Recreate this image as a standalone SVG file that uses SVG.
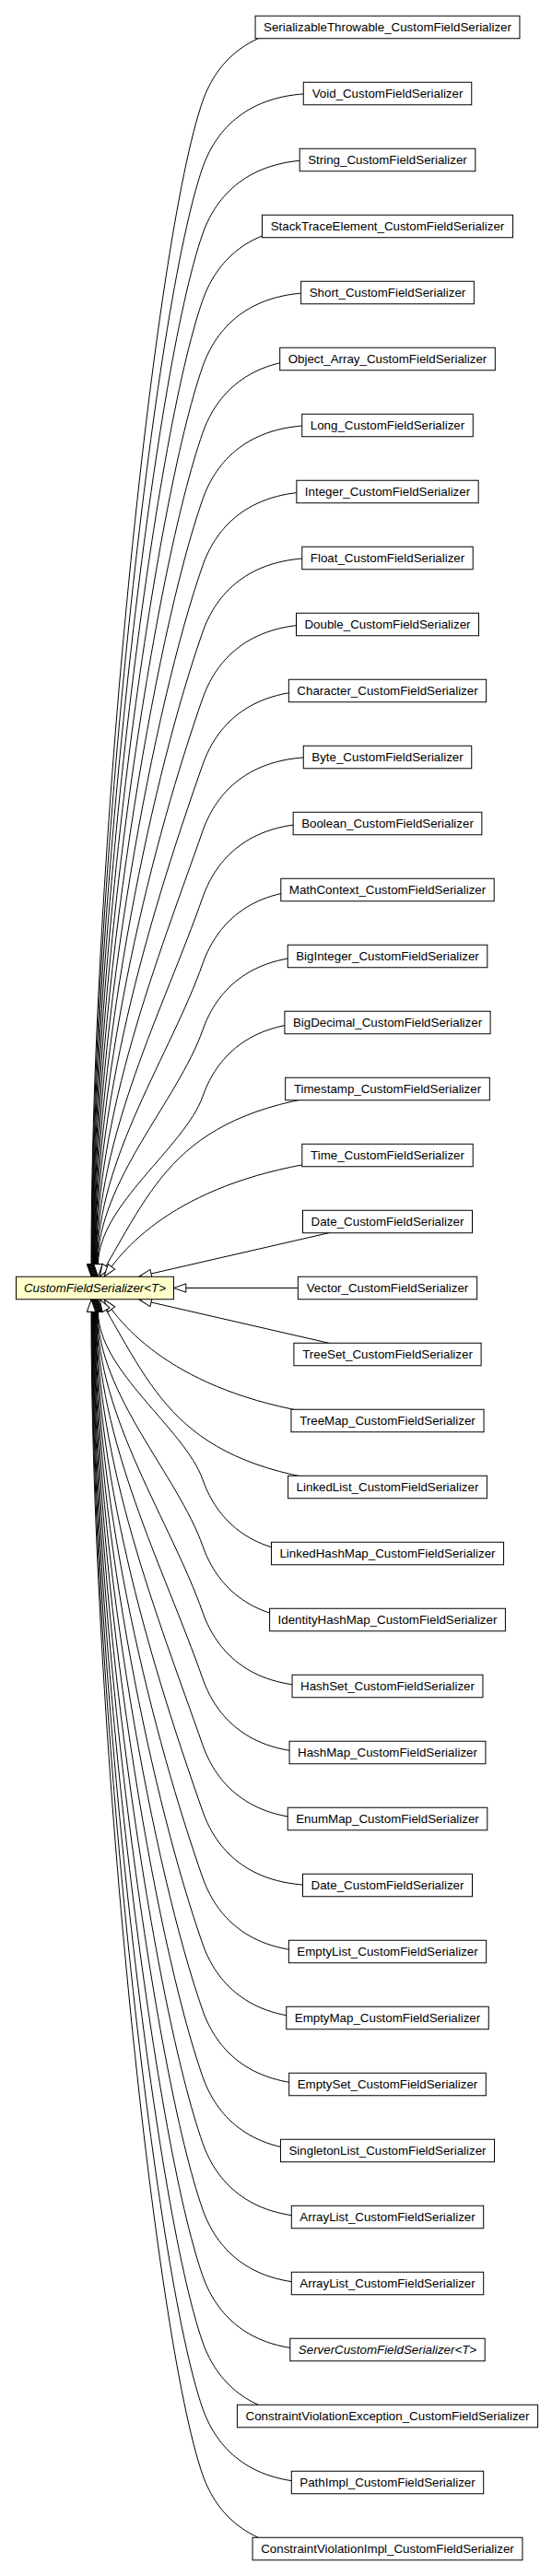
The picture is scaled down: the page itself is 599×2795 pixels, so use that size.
<svg xmlns="http://www.w3.org/2000/svg" width="599" height="2795" viewBox="0 0 599 2795">
<style>
.e{fill:none;stroke:#000;stroke-width:1;marker-end:url(#tri)}
.n rect{fill:#fff;stroke:#000;stroke-width:1}
.n text{font-family:"Liberation Sans",Helvetica,Arial,sans-serif;font-size:13.33px;text-anchor:middle;fill:#000}
.it{font-style:italic}
#n_base rect{fill:#ffffcc}
</style>
<defs>
<marker id="tri" markerUnits="userSpaceOnUse" markerWidth="16" markerHeight="12" viewBox="-1 -6 16 12" refX="0" refY="0" orient="auto" overflow="visible">
<path d="M0,-4.67 L13.3,0 L0,4.67 Z" fill="#fff" stroke="#000" stroke-width="1"/>
</marker>
</defs>
<rect width="599" height="2795" fill="#fff"/>
<g id="edges">
<path class="e" d="M338,29.5 C263,31.5 232.3,74.5 220,109.5 C167.4,259.5 99,929.9 99,1371.7"/>
<path class="e" d="M338,101.5 C263,103.5 232.3,146.5 220,181.5 C167.4,331.5 99.5,955.1 99.5,1371.7"/>
<path class="e" d="M338,173.5 C263,175.5 232.3,218.5 220,253.5 C167.4,403.5 100,980.3 100,1371.7"/>
<path class="e" d="M338,245.5 C263,247.5 232.3,290.5 220,325.5 C167.4,475.5 100.5,1005.5 100.5,1371.7"/>
<path class="e" d="M338,317.5 C263,319.5 232.3,362.5 220,397.5 C167.4,547.5 101,1030.7 101,1371.7"/>
<path class="e" d="M338,389.5 C263,391.5 232.3,434.5 220,469.5 C167.4,619.5 101.5,1055.9 101.5,1371.7"/>
<path class="e" d="M338,461.5 C263,463.5 232.3,506.5 220,541.5 C167.4,691.5 102,1081.1 102,1371.7"/>
<path class="e" d="M338,533.5 C263,535.5 232.3,578.5 220,613.5 C167.4,763.5 102.5,1106.3 102.5,1371.7"/>
<path class="e" d="M338,605.5 C263,607.5 232.3,650.5 220,685.5 C167.4,835.5 103,1131.5 103,1371.7"/>
<path class="e" d="M338,677.5 C263,679.5 232.3,722.5 220,757.5 C167.4,907.5 103.5,1156.7 103.5,1371.7"/>
<path class="e" d="M338,749.5 C263,751.5 232.3,794.5 220,829.5 C167.4,979.5 104,1181.9 104,1371.7"/>
<path class="e" d="M338,821.5 C263,823.5 232.3,866.5 220,901.5 C170.5,1042.5 104.5,1207.1 104.5,1371.7"/>
<path class="e" d="M338,893.5 C263,895.5 232.3,938.5 220,973.5 C178.1,1093 105,1232.3 105,1371.7"/>
<path class="e" d="M338,965.5 C263,967.5 232.3,1010.5 220,1045.5 C185.6,1143.4 105.5,1257.5 105.5,1371.7"/>
<path class="e" d="M338,1037.5 C263,1039.5 232.3,1082.5 220,1117.5 C193.2,1193.8 106,1282.7 106,1371.7"/>
<path class="e" d="M338,1109.5 C263,1111.5 232.3,1154.5 220,1189.5 C200.8,1244.2 106.5,1307.9 106.5,1371.7"/>
<path class="e" d="M420.5,1181.5 C205,1194 175,1270 115,1373.7"/>
<path class="e" d="M420.5,1253.5 C240,1262 157,1326.4 121,1374.4"/>
<path class="e" d="M420.5,1323.1 L164,1382"/>
<path class="e" d="M420.5,1397.5 L201.8,1397.5"/>
<path class="e" d="M420.5,1471.9 L164,1413"/>
<path class="e" d="M420.5,1541.5 C240,1533 157,1468.6 121,1420.6"/>
<path class="e" d="M420.5,1613.5 C205,1601 175,1525 115,1421.3"/>
<path class="e" d="M338,1685.5 C263,1683.5 232.3,1640.5 220,1605.5 C200.8,1550.8 106.5,1487.1 106.5,1423.3"/>
<path class="e" d="M338,1757.5 C263,1755.5 232.3,1712.5 220,1677.5 C193.2,1601.2 106,1512.3 106,1423.3"/>
<path class="e" d="M338,1829.5 C263,1827.5 232.3,1784.5 220,1749.5 C185.6,1651.6 105.5,1537.5 105.5,1423.3"/>
<path class="e" d="M338,1901.5 C263,1899.5 232.3,1856.5 220,1821.5 C178.1,1702 105,1562.7 105,1423.3"/>
<path class="e" d="M338,1973.5 C263,1971.5 232.3,1928.5 220,1893.5 C170.5,1752.5 104.5,1587.9 104.5,1423.3"/>
<path class="e" d="M338,2045.5 C263,2043.5 232.3,2000.5 220,1965.5 C167.4,1815.5 104,1613.1 104,1423.3"/>
<path class="e" d="M338,2117.5 C263,2115.5 232.3,2072.5 220,2037.5 C167.4,1887.5 103.5,1638.3 103.5,1423.3"/>
<path class="e" d="M338,2189.5 C263,2187.5 232.3,2144.5 220,2109.5 C167.4,1959.5 103,1663.5 103,1423.3"/>
<path class="e" d="M338,2261.5 C263,2259.5 232.3,2216.5 220,2181.5 C167.4,2031.5 102.5,1688.7 102.5,1423.3"/>
<path class="e" d="M338,2333.5 C263,2331.5 232.3,2288.5 220,2253.5 C167.4,2103.5 102,1713.9 102,1423.3"/>
<path class="e" d="M338,2405.5 C263,2403.5 232.3,2360.5 220,2325.5 C167.4,2175.5 101.5,1739.1 101.5,1423.3"/>
<path class="e" d="M338,2477.5 C263,2475.5 232.3,2432.5 220,2397.5 C167.4,2247.5 101,1764.3 101,1423.3"/>
<path class="e" d="M338,2549.5 C263,2547.5 232.3,2504.5 220,2469.5 C167.4,2319.5 100.5,1789.5 100.5,1423.3"/>
<path class="e" d="M338,2621.5 C263,2619.5 232.3,2576.5 220,2541.5 C167.4,2391.5 100,1814.7 100,1423.3"/>
<path class="e" d="M338,2693.5 C263,2691.5 232.3,2648.5 220,2613.5 C167.4,2463.5 99.5,1839.9 99.5,1423.3"/>
<path class="e" d="M338,2765.5 C263,2763.5 232.3,2720.5 220,2685.5 C167.4,2535.5 99,1865.1 99,1423.3"/>
</g>
<g id="n_base" class="n"><rect x="17.5" y="1385.25" width="171" height="24.5"/><text x="103" y="1402.2" class="it">CustomFieldSerializer&lt;T&gt;</text></g>
<g id="n0" class="n"><rect x="277.05" y="17.25" width="286.9" height="24.5"/><text x="420.5" y="34.2">SerializableThrowable_CustomFieldSerializer</text></g>
<g id="n1" class="n"><rect x="329.25" y="89.25" width="182.5" height="24.5"/><text x="420.5" y="106.2">Void_CustomFieldSerializer</text></g>
<g id="n2" class="n"><rect x="325.2" y="161.25" width="190.6" height="24.5"/><text x="420.5" y="178.2">String_CustomFieldSerializer</text></g>
<g id="n3" class="n"><rect x="284.45" y="233.25" width="272.1" height="24.5"/><text x="420.5" y="250.2">StackTraceElement_CustomFieldSerializer</text></g>
<g id="n4" class="n"><rect x="326.65" y="305.25" width="187.7" height="24.5"/><text x="420.5" y="322.2">Short_CustomFieldSerializer</text></g>
<g id="n5" class="n"><rect x="303.7" y="377.25" width="233.6" height="24.5"/><text x="420.5" y="394.2">Object_Array_CustomFieldSerializer</text></g>
<g id="n6" class="n"><rect x="327.75" y="449.25" width="185.5" height="24.5"/><text x="420.5" y="466.2">Long_CustomFieldSerializer</text></g>
<g id="n7" class="n"><rect x="321.85" y="521.25" width="197.3" height="24.5"/><text x="420.5" y="538.2">Integer_CustomFieldSerializer</text></g>
<g id="n8" class="n"><rect x="327.8" y="593.25" width="185.4" height="24.5"/><text x="420.5" y="610.2">Float_CustomFieldSerializer</text></g>
<g id="n9" class="n"><rect x="321.5" y="665.25" width="198" height="24.5"/><text x="420.5" y="682.2">Double_CustomFieldSerializer</text></g>
<g id="n10" class="n"><rect x="313.35" y="737.25" width="214.3" height="24.5"/><text x="420.5" y="754.2">Character_CustomFieldSerializer</text></g>
<g id="n11" class="n"><rect x="329.25" y="809.25" width="182.5" height="24.5"/><text x="420.5" y="826.2">Byte_CustomFieldSerializer</text></g>
<g id="n12" class="n"><rect x="318.15" y="881.25" width="204.7" height="24.5"/><text x="420.5" y="898.2">Boolean_CustomFieldSerializer</text></g>
<g id="n13" class="n"><rect x="304.8" y="953.25" width="231.4" height="24.5"/><text x="420.5" y="970.2">MathContext_CustomFieldSerializer</text></g>
<g id="n14" class="n"><rect x="312.2" y="1025.25" width="216.6" height="24.5"/><text x="420.5" y="1042.2">BigInteger_CustomFieldSerializer</text></g>
<g id="n15" class="n"><rect x="308.9" y="1097.25" width="223.2" height="24.5"/><text x="420.5" y="1114.2">BigDecimal_CustomFieldSerializer</text></g>
<g id="n16" class="n"><rect x="309.65" y="1169.25" width="221.7" height="24.5"/><text x="420.5" y="1186.2">Timestamp_CustomFieldSerializer</text></g>
<g id="n17" class="n"><rect x="327.8" y="1241.25" width="185.4" height="24.5"/><text x="420.5" y="1258.2">Time_CustomFieldSerializer</text></g>
<g id="n18" class="n"><rect x="328.5" y="1313.25" width="184" height="24.5"/><text x="420.5" y="1330.2">Date_CustomFieldSerializer</text></g>
<g id="n19" class="n"><rect x="323.35" y="1385.25" width="194.3" height="24.5"/><text x="420.5" y="1402.2">Vector_CustomFieldSerializer</text></g>
<g id="n20" class="n"><rect x="318.9" y="1457.25" width="203.2" height="24.5"/><text x="420.5" y="1474.2">TreeSet_CustomFieldSerializer</text></g>
<g id="n21" class="n"><rect x="315.95" y="1529.25" width="209.1" height="24.5"/><text x="420.5" y="1546.2">TreeMap_CustomFieldSerializer</text></g>
<g id="n22" class="n"><rect x="312.6" y="1601.25" width="215.8" height="24.5"/><text x="420.5" y="1618.2">LinkedList_CustomFieldSerializer</text></g>
<g id="n23" class="n"><rect x="294.45" y="1673.25" width="252.1" height="24.5"/><text x="420.5" y="1690.2">LinkedHashMap_CustomFieldSerializer</text></g>
<g id="n24" class="n"><rect x="292.6" y="1745.25" width="255.8" height="24.5"/><text x="420.5" y="1762.2">IdentityHashMap_CustomFieldSerializer</text></g>
<g id="n25" class="n"><rect x="317.05" y="1817.25" width="206.9" height="24.5"/><text x="420.5" y="1834.2">HashSet_CustomFieldSerializer</text></g>
<g id="n26" class="n"><rect x="314.05" y="1889.25" width="212.9" height="24.5"/><text x="420.5" y="1906.2">HashMap_CustomFieldSerializer</text></g>
<g id="n27" class="n"><rect x="312.2" y="1961.25" width="216.6" height="24.5"/><text x="420.5" y="1978.2">EnumMap_CustomFieldSerializer</text></g>
<g id="n28" class="n"><rect x="328.5" y="2033.25" width="184" height="24.5"/><text x="420.5" y="2050.2">Date_CustomFieldSerializer</text></g>
<g id="n29" class="n"><rect x="313.35" y="2105.25" width="214.3" height="24.5"/><text x="420.5" y="2122.2">EmptyList_CustomFieldSerializer</text></g>
<g id="n30" class="n"><rect x="310.75" y="2177.25" width="219.5" height="24.5"/><text x="420.5" y="2194.2">EmptyMap_CustomFieldSerializer</text></g>
<g id="n31" class="n"><rect x="313.7" y="2249.25" width="213.6" height="24.5"/><text x="420.5" y="2266.2">EmptySet_CustomFieldSerializer</text></g>
<g id="n32" class="n"><rect x="304.45" y="2321.25" width="232.1" height="24.5"/><text x="420.5" y="2338.2">SingletonList_CustomFieldSerializer</text></g>
<g id="n33" class="n"><rect x="316.3" y="2393.25" width="208.4" height="24.5"/><text x="420.5" y="2410.2">ArrayList_CustomFieldSerializer</text></g>
<g id="n34" class="n"><rect x="316.3" y="2465.25" width="208.4" height="24.5"/><text x="420.5" y="2482.2">ArrayList_CustomFieldSerializer</text></g>
<g id="n35" class="n"><rect x="314.8" y="2537.25" width="211.4" height="24.5"/><text x="420.5" y="2554.2" class="it">ServerCustomFieldSerializer&lt;T&gt;</text></g>
<g id="n36" class="n"><rect x="257.4" y="2609.25" width="326.2" height="24.5"/><text x="420.5" y="2626.2">ConstraintViolationException_CustomFieldSerializer</text></g>
<g id="n37" class="n"><rect x="316.3" y="2681.25" width="208.4" height="24.5"/><text x="420.5" y="2698.2">PathImpl_CustomFieldSerializer</text></g>
<g id="n38" class="n"><rect x="274.05" y="2753.25" width="292.9" height="24.5"/><text x="420.5" y="2770.2">ConstraintViolationImpl_CustomFieldSerializer</text></g>
</svg>
